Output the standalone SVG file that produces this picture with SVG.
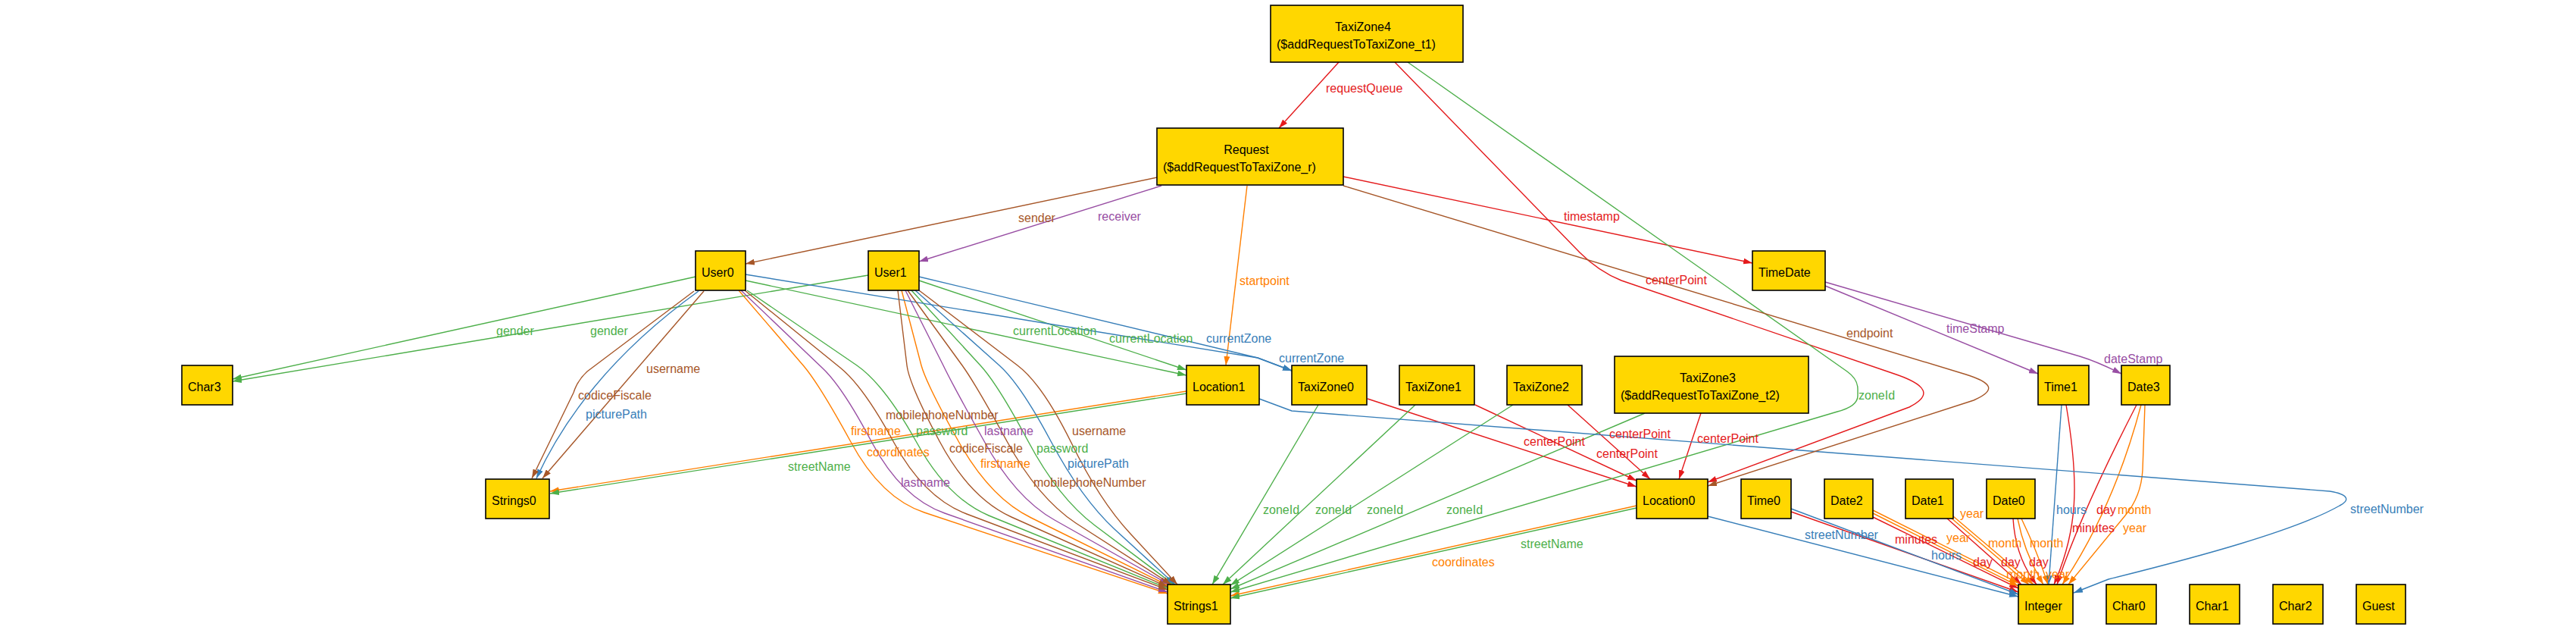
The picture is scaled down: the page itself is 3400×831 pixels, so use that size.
<svg xmlns="http://www.w3.org/2000/svg" width="3400" height="831" viewBox="0 0 3400 831">
<style>
.n rect{fill:#FFD700;stroke:#000;stroke-width:1.6}
.n text{font-family:"Liberation Sans",Arial,sans-serif;font-size:16px;fill:#000}
.c path{fill:none;stroke-width:1.4;stroke-linejoin:round}
.c text{font-family:"Liberation Sans",Arial,sans-serif;font-size:16px}
.r{stroke:#e41a1c;marker-end:url(#mr)} .o{stroke:#ff7f00;marker-end:url(#mo)} .g{stroke:#4daf4a;marker-end:url(#mg)}
.b{stroke:#377eb8;marker-end:url(#mb)} .p{stroke:#984ea3;marker-end:url(#mp)} .w{stroke:#a65628;marker-end:url(#mw)}
.tr{fill:#e41a1c} .to{fill:#ff7f00} .tg{fill:#4daf4a} .tb{fill:#377eb8} .tp{fill:#984ea3} .tw{fill:#a65628}
</style>
<defs>
<marker id="mr" viewBox="0 0 12 8" refX="12" refY="4" markerWidth="12" markerHeight="8" markerUnits="userSpaceOnUse" orient="auto"><path d="M0,0L12,4L0,8z" fill="#e41a1c"/></marker>
<marker id="mo" viewBox="0 0 12 8" refX="12" refY="4" markerWidth="12" markerHeight="8" markerUnits="userSpaceOnUse" orient="auto"><path d="M0,0L12,4L0,8z" fill="#ff7f00"/></marker>
<marker id="mg" viewBox="0 0 12 8" refX="12" refY="4" markerWidth="12" markerHeight="8" markerUnits="userSpaceOnUse" orient="auto"><path d="M0,0L12,4L0,8z" fill="#4daf4a"/></marker>
<marker id="mb" viewBox="0 0 12 8" refX="12" refY="4" markerWidth="12" markerHeight="8" markerUnits="userSpaceOnUse" orient="auto"><path d="M0,0L12,4L0,8z" fill="#377eb8"/></marker>
<marker id="mp" viewBox="0 0 12 8" refX="12" refY="4" markerWidth="12" markerHeight="8" markerUnits="userSpaceOnUse" orient="auto"><path d="M0,0L12,4L0,8z" fill="#984ea3"/></marker>
<marker id="mw" viewBox="0 0 12 8" refX="12" refY="4" markerWidth="12" markerHeight="8" markerUnits="userSpaceOnUse" orient="auto"><path d="M0,0L12,4L0,8z" fill="#a65628"/></marker>
</defs>
<rect width="3400" height="831" fill="#fff"/>
<g id="connectors" class="c">
<!-- red -->
<path class="r" d="M1767,82 L1688,169"/>
<path class="r" d="M1773,233 L2313,347"/>
<path class="r" d="M1841,82 L2085,333 Q2110,358 2140,370 L2500,493 C2545,508 2550,522 2520,537 L2254,636"/>
<path class="r" d="M1805,526 L2160,642"/>
<path class="r" d="M1947,534 L2160,634"/>
<path class="r" d="M2069,534 L2178,632"/>
<path class="r" d="M2245,545 L2216,632"/>
<path class="r" d="M2364,675 L2664,781"/>
<path class="r" d="M2472,682 L2664,776"/>
<path class="r" d="M2570,684 L2668,771"/>
<path class="r" d="M2657,684 Q2660,735 2688,771"/>
<path class="r" d="M2727,534 C2745,640 2742,700 2711,771"/>
<path class="r" d="M2820,534 Q2745,680 2715,771"/>
<!-- orange -->
<path class="o" d="M1646,245 L1618,482"/>
<path class="o" d="M1566,516 L726,648"/>
<path class="o" d="M2160,667 L1624,786"/>
<path class="o" d="M975,383 L1061,483 Q1082,508 1123,583 Q1163,657 1220,676 L1541,783"/>
<path class="o" d="M1190,383 L1216,482 Q1223,507 1265,582 Q1307,657 1361,683 L1541,772"/>
<path class="o" d="M2472,673 L2664,769"/>
<path class="o" d="M2472,677 L2664,773"/>
<path class="o" d="M2575,683 L2678,771"/>
<path class="o" d="M2578,681 L2684,771"/>
<path class="o" d="M2663,684 Q2672,730 2697,771"/>
<path class="o" d="M2668,684 Q2690,730 2703,771"/>
<path class="o" d="M2826,534 Q2790,670 2722,771"/>
<path class="o" d="M2831,534 L2828,620 Q2826,655 2805,680 L2730,771"/>
<!-- green -->
<path class="g" d="M1858,82 L2438,490 Q2452,500 2452,513 L2452,522 Q2452,536 2425,543 L1624,781"/>
<path class="g" d="M918,365 L307,500"/>
<path class="g" d="M1146,363 L307,503"/>
<path class="g" d="M984,370 L1566,495"/>
<path class="g" d="M1213,370 L1566,488"/>
<path class="g" d="M1566,519 L726,651"/>
<path class="g" d="M2160,670 L1624,789"/>
<path class="g" d="M1740,534 L1600,771"/>
<path class="g" d="M1868,534 L1614,771"/>
<path class="g" d="M1997,534 L1624,772"/>
<path class="g" d="M2171,545 L1624,777"/>
<path class="g" d="M986,383 L1131,482 Q1167,507 1209,582 Q1250,657 1305,680 L1541,776"/>
<path class="g" d="M1203,383 L1294,482 Q1317,507 1357,582 Q1397,657 1445,693 L1549,771"/>
<!-- blue -->
<path class="b" d="M922,384 Q772,492 708,631"/>
<path class="b" d="M1208,383 L1319,482 Q1347,507 1387,582 Q1427,657 1471,698 L1551,771"/>
<path class="b" d="M984,362 L1660,472 L1705,489"/>
<path class="b" d="M1213,365 L1660,472 L1705,489"/>
<path class="b" d="M1662,526 L1705,542 L3075,648 C3100,652 3102,660 3088,667 C3030,700 2900,735 2783,764 L2737,782"/>
<path class="b" d="M2254,681 L2664,787"/>
<path class="b" d="M2364,671 L2664,784"/>
<path class="b" d="M2721,534 L2704,771"/>
<!-- purple -->
<path class="p" d="M1533,245 L1213,345"/>
<path class="p" d="M978,383 L1085,485 Q1112,510 1151,584 Q1190,657 1247,677 L1541,781"/>
<path class="p" d="M1195,383 L1245,482 Q1257,507 1299,582 Q1340,657 1392,686 L1543,771"/>
<path class="p" d="M2409,377 L2690,493"/>
<path class="p" d="M2409,372 L2745,470 Q2768,477 2800,493"/>
<!-- brown -->
<path class="w" d="M1527,234 L984,348"/>
<path class="w" d="M1773,245 L2595,494 C2630,505 2635,515 2605,528 L2254,641"/>
<path class="w" d="M929,384 L716,631"/>
<path class="w" d="M916,384 L775,490 Q762,502 757,518 L702,631"/>
<path class="w" d="M983,383 L1109,485 Q1140,510 1180,584 Q1220,657 1276,678 L1541,778"/>
<path class="w" d="M1185,383 L1197,482 Q1200,507 1240,582 Q1280,657 1335,682 L1541,774"/>
<path class="w" d="M1198,383 L1270,482 Q1288,507 1329,582 Q1370,657 1420,690 L1546,771"/>
<path class="w" d="M1213,383 L1343,482 Q1376,507 1414,584 Q1451,660 1492,704 L1554,771"/>
<!-- labels -->
<text class="tr" x="1750" y="122">requestQueue</text>
<text class="tr" x="2064" y="291">timestamp</text>
<text class="tr" x="2172" y="375">centerPoint</text>
<text class="tr" x="2011" y="588">centerPoint</text>
<text class="tr" x="2124" y="578">centerPoint</text>
<text class="tr" x="2240" y="584">centerPoint</text>
<text class="tr" x="2107" y="604">centerPoint</text>
<text class="tr" x="2735" y="702">minutes</text>
<text class="tr" x="2501" y="717">minutes</text>
<text class="tr" x="2767" y="678">day</text>
<text class="tr" x="2604" y="747">day</text>
<text class="tr" x="2641" y="747">day</text>
<text class="tr" x="2678" y="747">day</text>
<text class="to" x="1636" y="376">startpoint</text>
<text class="to" x="1144" y="602">coordinates</text>
<text class="to" x="1890" y="747">coordinates</text>
<text class="to" x="1123" y="574">firstname</text>
<text class="to" x="1294" y="617">firstname</text>
<text class="to" x="2587" y="683">year</text>
<text class="to" x="2795" y="678">month</text>
<text class="to" x="2802" y="702">year</text>
<text class="to" x="2569" y="715">year</text>
<text class="to" x="2624" y="722">month</text>
<text class="to" x="2679" y="722">month</text>
<text class="to" x="2648" y="763">month</text>
<text class="to" x="2700" y="763">year</text>
<text class="tg" x="2453" y="527">zoneId</text>
<text class="tg" x="655" y="442">gender</text>
<text class="tg" x="779" y="442">gender</text>
<text class="tg" x="1337" y="442">currentLocation</text>
<text class="tg" x="1464" y="452">currentLocation</text>
<text class="tg" x="1209" y="574">password</text>
<text class="tg" x="1368" y="597">password</text>
<text class="tg" x="1040" y="621">streetName</text>
<text class="tg" x="2007" y="723">streetName</text>
<text class="tg" x="1667" y="678">zoneId</text>
<text class="tg" x="1736" y="678">zoneId</text>
<text class="tg" x="1804" y="678">zoneId</text>
<text class="tg" x="1909" y="678">zoneId</text>
<text class="tb" x="773" y="552">picturePath</text>
<text class="tb" x="1409" y="617">picturePath</text>
<text class="tb" x="1592" y="452">currentZone</text>
<text class="tb" x="1688" y="478">currentZone</text>
<text class="tb" x="3102" y="677">streetNumber</text>
<text class="tb" x="2382" y="711">streetNumber</text>
<text class="tb" x="2714" y="678">hours</text>
<text class="tb" x="2549" y="738">hours</text>
<text class="tp" x="1449" y="291">receiver</text>
<text class="tp" x="2569" y="439">timeStamp</text>
<text class="tp" x="2777" y="479">dateStamp</text>
<text class="tp" x="1299" y="574">lastname</text>
<text class="tp" x="1189" y="642">lastname</text>
<text class="tw" x="1344" y="293">sender</text>
<text class="tw" x="2437" y="445">endpoint</text>
<text class="tw" x="853" y="492">username</text>
<text class="tw" x="763" y="527">codiceFiscale</text>
<text class="tw" x="1169" y="553">mobilephoneNumber</text>
<text class="tw" x="1415" y="574">username</text>
<text class="tw" x="1253" y="597">codiceFiscale</text>
<text class="tw" x="1364" y="642">mobilephoneNumber</text>
</g>
<g id="nodes" class="n">
<g id="TaxiZone4"><rect x="1677" y="7" width="254" height="75"/><text x="1799" y="40.5" text-anchor="middle">TaxiZone4</text><text x="1685" y="64">($addRequestToTaxiZone_t1)</text></g>
<g id="Request"><rect x="1527" y="169" width="246" height="75"/><text x="1645" y="202.5" text-anchor="middle">Request</text><text x="1535" y="226">($addRequestToTaxiZone_r)</text></g>
<g id="User0"><rect x="918" y="331" width="66" height="52"/><text x="926" y="365">User0</text></g>
<g id="User1"><rect x="1146" y="331" width="67" height="52"/><text x="1154" y="365">User1</text></g>
<g id="TimeDate"><rect x="2313" y="331" width="96" height="52"/><text x="2321" y="365">TimeDate</text></g>
<g id="Char3"><rect x="240" y="482" width="67" height="52"/><text x="248" y="516">Char3</text></g>
<g id="Location1"><rect x="1566" y="482" width="96" height="52"/><text x="1574" y="516">Location1</text></g>
<g id="TaxiZone0"><rect x="1705" y="482" width="99" height="52"/><text x="1713" y="516">TaxiZone0</text></g>
<g id="TaxiZone1"><rect x="1847" y="482" width="99" height="52"/><text x="1855" y="516">TaxiZone1</text></g>
<g id="TaxiZone2"><rect x="1989" y="482" width="99" height="52"/><text x="1997" y="516">TaxiZone2</text></g>
<g id="TaxiZone3"><rect x="2131" y="470" width="256" height="75"/><text x="2254" y="503.5" text-anchor="middle">TaxiZone3</text><text x="2139" y="527">($addRequestToTaxiZone_t2)</text></g>
<g id="Time1"><rect x="2690" y="482" width="67" height="52"/><text x="2698" y="516">Time1</text></g>
<g id="Date3"><rect x="2800" y="482" width="64" height="52"/><text x="2808" y="516">Date3</text></g>
<g id="Strings0"><rect x="641" y="632" width="84" height="52"/><text x="649" y="666">Strings0</text></g>
<g id="Location0"><rect x="2160" y="632" width="94" height="52"/><text x="2168" y="666">Location0</text></g>
<g id="Time0"><rect x="2298" y="632" width="66" height="52"/><text x="2306" y="666">Time0</text></g>
<g id="Date2"><rect x="2408" y="632" width="64" height="52"/><text x="2416" y="666">Date2</text></g>
<g id="Date1"><rect x="2515" y="632" width="63" height="52"/><text x="2523" y="666">Date1</text></g>
<g id="Date0"><rect x="2622" y="632" width="64" height="52"/><text x="2630" y="666">Date0</text></g>
<g id="Strings1"><rect x="1541" y="771" width="83" height="52"/><text x="1549" y="805">Strings1</text></g>
<g id="Integer"><rect x="2664" y="771" width="72" height="52"/><text x="2672" y="805">Integer</text></g>
<g id="Char0"><rect x="2780" y="771" width="66" height="52"/><text x="2788" y="805">Char0</text></g>
<g id="Char1"><rect x="2890" y="771" width="66" height="52"/><text x="2898" y="805">Char1</text></g>
<g id="Char2"><rect x="3000" y="771" width="66" height="52"/><text x="3008" y="805">Char2</text></g>
<g id="Guest"><rect x="3110" y="771" width="65" height="52"/><text x="3118" y="805">Guest</text></g>
</g>
</svg>
